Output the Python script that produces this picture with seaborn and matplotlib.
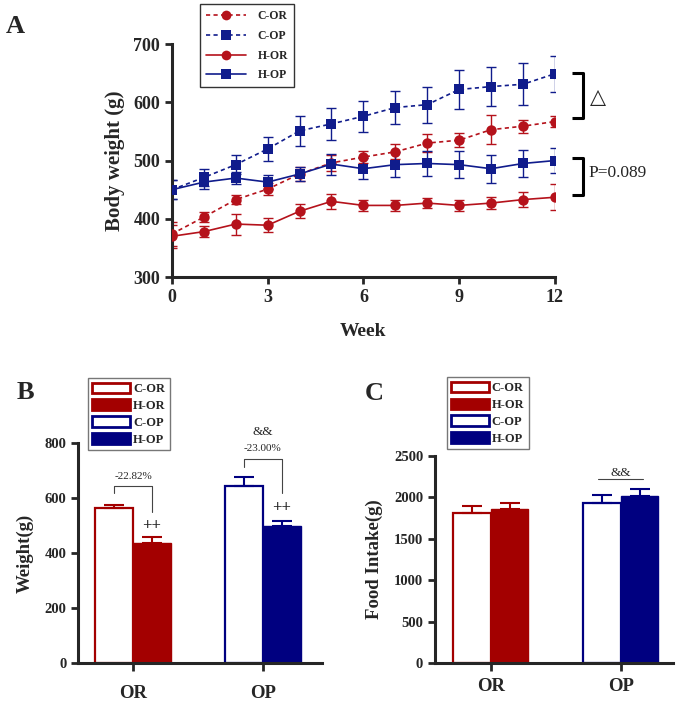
import numpy as np
import pandas as pd
import matplotlib
matplotlib.use("Agg")
import matplotlib.pyplot as plt
from matplotlib.patches import Patch
from matplotlib.lines import Line2D
import seaborn as sns

# ---------------- data ----------------
weeks = list(range(13))
c_or = [374, 403, 433, 451, 477, 496, 506, 515, 530, 535, 553, 559, 567]
c_or_err = [20, 8, 8, 10, 12, 14, 10, 13, 15, 12, 25, 11, 10]
c_op = [450, 471, 493, 520, 551, 563, 576, 591, 596, 622, 627, 631, 649]
c_op_err = [16, 15, 16, 21, 26, 27, 27, 29, 31, 34, 33, 36, 31]
h_or = [370, 378, 391, 389, 413, 430, 423, 423, 427, 423, 427, 433, 437]
h_or_err = [20, 10, 18, 12, 12, 13, 10, 9, 8, 10, 11, 13, 22]
h_op = [450, 463, 470, 463, 477, 494, 486, 493, 495, 493, 486, 495, 500]
h_op_err = [16, 12, 10, 12, 12, 18, 18, 21, 21, 23, 24, 23, 21]

groups = ["OR", "OR", "OP", "OP"]
treatments = ["C", "H", "C", "H"]
final_weight = [564, 435, 645, 497]
final_weight_err = [10, 22, 30, 21]
food_intake = [1809, 1861, 1937, 2022]
food_intake_err = [92, 76, 97, 76]
bar_labels = ["C-OR", "H-OR", "C-OP", "H-OP"]

RED = "#A30000"
BLUE = "#000080"
RED_L = "#B5121B"
BLUE_L = "#101C8C"

sns.set_style("ticks")
plt.rcParams["font.family"] = ["Liberation Serif", "DejaVu Sans"]
plt.rcParams["font.weight"] = "bold"
plt.rcParams["axes.linewidth"] = 2.2

fig = plt.figure(figsize=(6.85, 7.05), dpi=100)

# ---------------- Panel A ----------------
axA = fig.add_axes([0.251, 0.607, 0.559, 0.3305])
series = [
    ("C-OR", c_or, c_or_err, RED_L, "o", (0, (2.5, 2))),
    ("C-OP", c_op, c_op_err, BLUE_L, "s", (0, (2.5, 2))),
    ("H-OR", h_or, h_or_err, RED_L, "o", "-"),
    ("H-OP", h_op, h_op_err, BLUE_L, "s", "-"),
]
handles = []
for name, vals, err, col, mk, ls in series:
    sns.lineplot(x=weeks, y=vals, ax=axA, color=col, marker=mk, markersize=7.5,
                 markeredgewidth=0, linestyle=ls, linewidth=1.2, zorder=3)
    axA.errorbar(weeks, vals, yerr=err, fmt="none", ecolor=col, elinewidth=1.0,
                 capsize=3.5, capthick=1.0, zorder=2)
    handles.append(Line2D([0], [0], color=col, marker=mk, markersize=7,
                          linestyle=ls, linewidth=1.2, markeredgewidth=0))
axA.set_xlim(0, 12)
axA.set_ylim(300, 700)
axA.set_xticks([0, 3, 6, 9, 12])
axA.set_yticks([300, 400, 500, 600, 700])
axA.tick_params(axis="both", labelsize=13, width=2, length=5)
for lab in axA.get_xticklabels() + axA.get_yticklabels():
    lab.set_fontweight("bold")
axA.set_xlabel("Week", fontsize=14, fontweight="bold", labelpad=12)
axA.set_ylabel("Body weight (g)", fontsize=15, fontweight="bold", labelpad=6)
sns.despine(ax=axA)
axA.spines["left"].set_bounds(300, 700)
leg = axA.legend(handles, [s[0] for s in series], loc="upper left",
                 bbox_to_anchor=(0.073, 1.17), borderaxespad=0, frameon=True,
                 fancybox=False, edgecolor="black", handlelength=3.4,
                 borderpad=0.5, labelspacing=0.65, handletextpad=1.0,
                 prop={"weight": "bold", "size": 8.5})
leg.get_frame().set_linewidth(1.0)

# brackets
kw = dict(color="black", lw=2.2, clip_on=False, solid_capstyle="butt")
axA.plot([12.53, 12.88, 12.88, 12.53], [650, 650, 573, 573], **kw)
axA.plot([12.53, 12.88, 12.88, 12.53], [504, 504, 441, 441], **kw)
axA.text(13.35, 609, "\u25B3", fontsize=15, ha="center", va="center",
         family=["DejaVu Sans"], fontweight="normal", clip_on=False)
axA.text(13.05, 478, "P=0.089", fontsize=12.5, ha="left", va="center",
         fontweight="normal", clip_on=False)

fig.text(0.023, 0.962, "A", fontsize=19, fontweight="bold", ha="center", va="center")


# ---------------- bar panels ----------------
def bar_panel(ax, vals, errs, ylim, yticks, ylabel, xlim):
    df = pd.DataFrame({"group": groups, "trt": treatments, "value": vals})
    sns.barplot(data=df, x="group", y="value", hue="trt", order=["OR", "OP"],
                hue_order=["C", "H"], width=0.58, gap=0, errorbar=None,
                legend=False, ax=ax, zorder=2)
    centers = {}
    for hi, cont in enumerate(ax.containers):
        for gi, patch in enumerate(cont.patches):
            col = RED if gi == 0 else BLUE
            if hi == 0:
                patch.set_facecolor("white")
                patch.set_edgecolor(col)
                patch.set_linewidth(1.6)
            else:
                patch.set_facecolor(col)
                patch.set_edgecolor(col)
                patch.set_linewidth(1.0)
            idx = gi * 2 + hi
            centers[idx] = patch.get_x() + patch.get_width() / 2
    for i in range(4):
        col = RED if i < 2 else BLUE
        ax.errorbar([centers[i]], [vals[i]], yerr=[[0], [errs[i]]], fmt="none",
                    ecolor=col, elinewidth=1.5, capsize=7, capthick=1.5, zorder=3)
    ax.set_xlim(*xlim)
    ax.set_ylim(*ylim)
    ax.set_yticks(yticks)
    ax.set_xlabel("")
    ax.set_ylabel(ylabel, fontsize=13.5, fontweight="bold", labelpad=8)
    ax.tick_params(axis="y", labelsize=10.5, width=2, length=5)
    ax.tick_params(axis="x", labelsize=13.5, width=2, length=6, pad=10)
    for lab in ax.get_xticklabels() + ax.get_yticklabels():
        lab.set_fontweight("bold")
    sns.despine(ax=ax)
    return centers


def bar_legend(ax, anchor):
    hs = [Patch(facecolor="white", edgecolor=RED, linewidth=2),
          Patch(facecolor=RED, edgecolor=RED, linewidth=2),
          Patch(facecolor="white", edgecolor=BLUE, linewidth=2),
          Patch(facecolor=BLUE, edgecolor=BLUE, linewidth=2)]
    lg = ax.legend(hs, bar_labels, loc="upper left", bbox_to_anchor=anchor,
                   borderaxespad=0, frameon=True, fancybox=False, edgecolor="#555555",
                   handlelength=3.0, handleheight=0.9, handletextpad=0.25,
                   borderpad=0.35, labelspacing=0.35,
                   prop={"weight": "bold", "size": 9})
    lg.get_frame().set_linewidth(1.0)


# Panel B
axB = fig.add_axes([0.114, 0.0596, 0.356, 0.312])
cB = bar_panel(axB, final_weight, final_weight_err, (0, 800), [0, 200, 400, 600, 800],
               "Weight(g)", (-0.423, 1.454))
bar_legend(axB, (0.041, 1.295))
lk = dict(color="#444444", lw=0.8, clip_on=False)
axB.plot([cB[0], cB[0], cB[1], cB[1]], [617, 643, 643, 550], **lk)
axB.text((cB[0] + cB[1]) / 2, 679, "-22.82%", fontsize=8, ha="center", va="center",
         fontweight="normal")
axB.plot([cB[2], cB[2], cB[3], cB[3]], [713, 743, 743, 619], **lk)
axB.text((cB[2] + cB[3]) / 2, 779, "-23.00%", fontsize=8, ha="center", va="center",
         fontweight="normal", clip_on=False)
axB.text((cB[2] + cB[3]) / 2, 840, "&&", fontsize=9.5, ha="center", va="center",
         fontweight="normal", clip_on=False)
axB.text(cB[1], 497, "++", fontsize=12, ha="center", va="center", fontweight="bold")
axB.text(cB[3], 563, "++", fontsize=12, ha="center", va="center", fontweight="bold")
fig.text(0.037, 0.443, "B", fontsize=19, fontweight="bold", ha="center", va="center")

# Panel C
axC = fig.add_axes([0.635, 0.0596, 0.347, 0.2936])
cC = bar_panel(axC, food_intake, food_intake_err, (0, 2500),
               [0, 500, 1000, 1500, 2000, 2500], "Food Intake(g)", (-0.43, 1.40))
axC.tick_params(axis="x", pad=5)
bar_legend(axC, (0.05, 1.38))
axC.plot([cC[2] - 0.03, cC[3] + 0.03], [2219, 2219], color="#444444", lw=0.8)
axC.text((cC[2] + cC[3]) / 2, 2295, "&&", fontsize=9.5, ha="center", va="center",
         fontweight="normal")
fig.text(0.546, 0.442, "C", fontsize=19, fontweight="bold", ha="center", va="center")

fig.savefig("out.png", dpi=100)
